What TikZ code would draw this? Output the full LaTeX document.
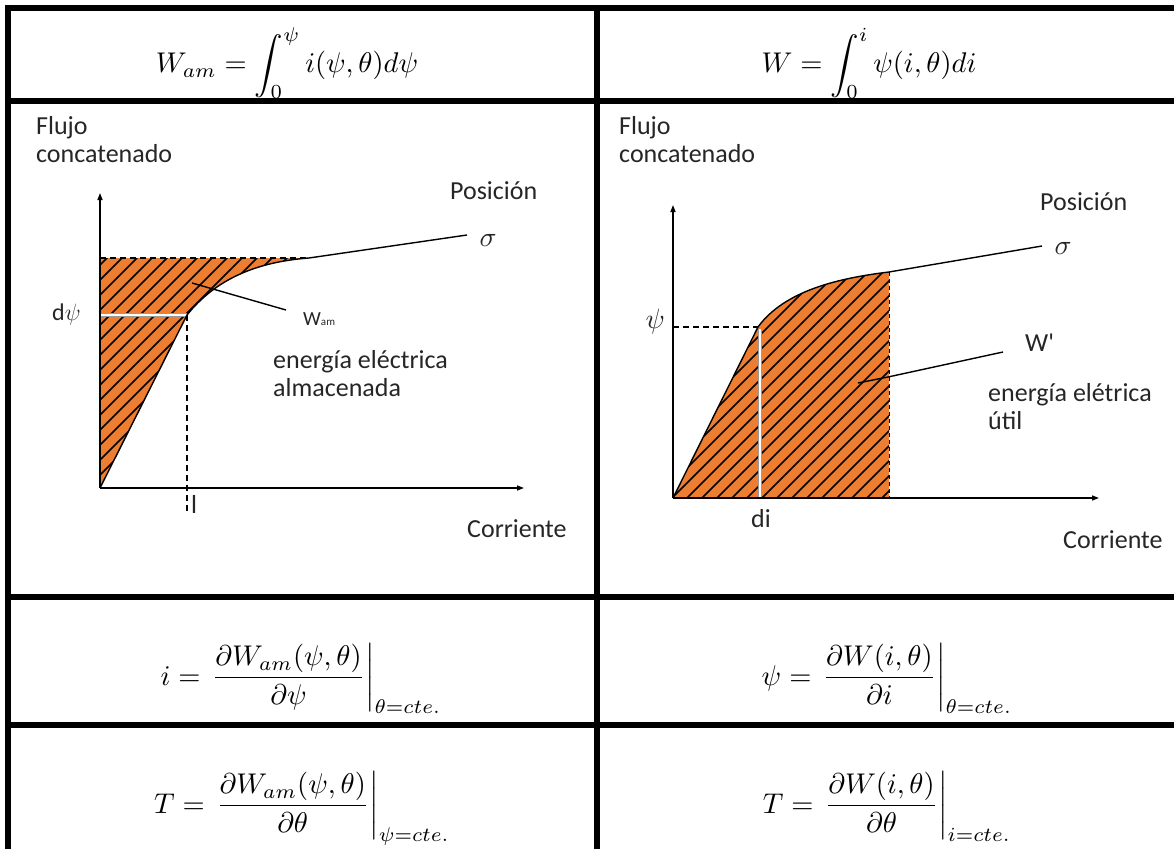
\documentclass[tikz,border=0pt]{standalone}
\usepackage{fontspec}
\usepackage{amsmath}
\newfontfamily\calib{Carlito}
\usetikzlibrary{arrows.meta}
\definecolor{hatchorange}{RGB}{237,125,49}
\begin{document}
\begin{tikzpicture}[x=1pt,y=-1pt,
  tbl/.style={line width=6pt},
  axisline/.style={line width=1.4pt,-{Triangle[length=7pt,width=5pt]}},
  curveline/.style={line width=1.4pt},
  hatchline/.style={line width=1.5pt,black},
  dashline/.style={line width=1.3pt,dash pattern=on 6pt off 4pt},
  lbl/.style={font=\calib\fontsize{26}{30}\selectfont,text=black!85,inner sep=0pt,anchor=base west},
  mth/.style={scale=2.85,inner sep=0pt,anchor=base},
  greek/.style={scale=2.8,inner sep=0pt,anchor=base west,text=black!85},
  strip/.style={line width=4.5pt,black!40},
  stripin/.style={line width=2.5pt,white}]
\useasboundingbox (0,0) rectangle (1174,848);
\fill[white] (0,0) rectangle (1174,848);

% ---------- formulas ----------
\node[mth] (f1) at (287,73) {$\displaystyle W_{am}=\int_0^{\psi} i(\psi,\theta)d\psi$};
\node[mth] (f2) at (869,73) {$\displaystyle W=\int_0^{i} \psi(i,\theta)di$};
\node[mth] (f3) at (301,685) {$\displaystyle i=\left.\frac{\partial W_{am}(\psi,\theta)}{\partial\psi}\right|_{\theta=cte.}$};
\node[mth] (f4) at (887,685) {$\displaystyle \psi=\left.\frac{\partial W(i,\theta)}{\partial i}\right|_{\theta=cte.}$};
\node[mth] (f5) at (302,813) {$\displaystyle T=\left.\frac{\partial W_{am}(\psi,\theta)}{\partial\theta}\right|_{\psi=cte.}$};
\node[mth] (f6) at (887,813) {$\displaystyle T=\left.\frac{\partial W(i,\theta)}{\partial\theta}\right|_{i=cte.}$};

% ---------- table grid ----------
\draw[tbl] (5,8) -- (1180,8);
\draw[tbl] (5,101) -- (1180,101);
\draw[tbl] (5,597) -- (1180,597);
\draw[tbl] (5,725) -- (1180,725);
\draw[tbl] (8,5) -- (8,860);
\draw[tbl] (597,5) -- (597,860);

% ---------- left plot ----------
\coordinate (LO) at (100,488);
\coordinate (LY) at (100,193);
\coordinate (LX) at (524,488);
\coordinate (LT) at (100,258);
\coordinate (LK) at (187,315);
\coordinate (LM) at (309,258);
\coordinate (LE) at (467,235);
\coordinate (LS) at (100,315);
\coordinate (LD) at (187,512);
\begin{scope}
  \clip (LT) -- (LM) .. controls (255,262) and (215,280) .. (LK) -- (LO) -- cycle;
  \fill[hatchorange] (0,0) rectangle (597,597);
  \foreach \s in {350,365,...,800} \draw[hatchline] (\s-200,200) -- (\s-600,600);
\end{scope}
\draw[strip] (LS) -- (LK);
\draw[stripin] (LS) -- (LK);
\draw[dashline] (LT) -- (LM);
\draw[dashline] (LK) -- (LD);
\draw[curveline] (LO) -- (LK) .. controls (215,280) and (255,262) .. (LM) -- (LE);
\draw[axisline] (LO) -- (LY);
\draw[axisline] (LO) -- (LX);
\coordinate (LP1) at (192,283);
\coordinate (LP2) at (286,310);
\draw[curveline] (LP1) -- (LP2);

\node[lbl] (lflujo) at (36,134) {Flujo};
\node[lbl] (lconc) at (36,162) {concatenado};
\node[lbl] (lpos) at (450,199) {Posición};
\node[greek] (lsig) at (479,246) {$\sigma$};
\node[lbl,font=\calib\fontsize{20}{24}\selectfont] (lw) at (303,325) {W{\fontsize{11}{12}\selectfont am}};
\node[lbl] (len1) at (273,368) {energía eléctrica};
\node[lbl] (len2) at (273,396) {almacenada};
\node[lbl] (lcor) at (467,537) {Corriente};
\node[lbl,font=\calib\fontsize{24}{28}\selectfont] (ldpsi) at (52,320) {d\scalebox{0.95}{$\psi$}};
\node[lbl] (li) at (191,513) {l};

% ---------- right plot ----------
\coordinate (RO) at (673,498);
\coordinate (RY) at (673,205);
\coordinate (RX) at (1099,498);
\coordinate (RK) at (758,327);
\coordinate (RM) at (889,272);
\coordinate (RB) at (889,498);
\coordinate (RE) at (1042,246);
\coordinate (RL) at (673,327);
\coordinate (RS) at (760,498);
\coordinate (RS2) at (760,329);
\begin{scope}
  \clip (RO) -- (RK) .. controls (785,290) and (840,278) .. (RM) -- (RB) -- cycle;
  \fill[hatchorange] (597,101) rectangle (1174,597);
  \foreach \s in {930,945,...,1400} \draw[hatchline] (\s-200,200) -- (\s-600,600);
\end{scope}
\draw[strip] (RS2) -- (RS);
\draw[stripin] (RS2) -- (RS);
\draw[dashline] (RL) -- (RK);
\draw[line width=1pt,dash pattern=on 4pt off 3pt] (RM) -- (RB);
\draw[curveline] (RO) -- (RK) .. controls (785,290) and (840,278) .. (RM) -- (RE);
\draw[axisline] (RO) -- (RY);
\draw[axisline] (RO) -- (RX);
\coordinate (RP1) at (1003,352);
\coordinate (RP2) at (888,377);
\coordinate (RP3) at (858,383);
\draw[curveline] (RP1) -- (RP2) -- (RP3);

\node[lbl] (rflujo) at (619,134) {Flujo};
\node[lbl] (rconc) at (619,162) {concatenado};
\node[lbl] (rpos) at (1040,210) {Posición};
\node[greek] (rsig) at (1054,254) {$\sigma$};
\node[greek] (rpsi) at (645,328) {$\psi$};
\node[lbl] (rw) at (1025,351) {W'};
\node[lbl] (ren1) at (988,401) {energía elétrica};
\node[lbl] (ren2) at (988,429) {útil};
\node[lbl] (rcor) at (1063,548) {Corriente};
\node[lbl] (rdi) at (751,527) {di};
\end{tikzpicture}
\end{document}
